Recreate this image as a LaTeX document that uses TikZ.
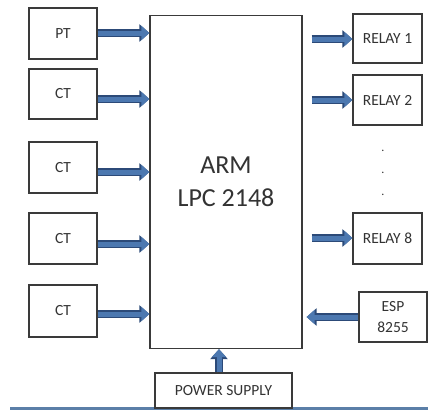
\documentclass[tikz,border=0pt]{standalone}
\usepackage{fontspec}
\setmainfont{Carlito}
\usetikzlibrary{arrows.meta}
\definecolor{boxline}{HTML}{3A3A3A}
\definecolor{txt}{HTML}{333333}
\definecolor{arrowfill}{HTML}{4C78B0}
\definecolor{arrowedge}{HTML}{2C4A78}
\definecolor{stripblue}{HTML}{5B7FA8}
\tikzset{
  blk/.style={draw=boxline, line width=1.3pt, fill=white, text=txt, inner sep=0pt, font=\fontsize{15.5}{17}\selectfont},
  fat/.style={line width=5pt, draw=arrowfill, -{Triangle[length=8pt,width=14pt,fill=arrowfill]},
    preaction={draw=arrowedge, line width=7.5pt, -{Triangle[length=10pt,width=17pt,fill=arrowedge]}}},
  dotn/.style={inner sep=0pt, font=\fontsize{12}{12}\selectfont, text=txt}
}
\begin{document}
\begin{tikzpicture}[x=1pt,y=-1pt]
\useasboundingbox (0,0) rectangle (428,410);
\fill[white] (0,0) rectangle (428,410);
\fill[stripblue] (10,406.5) rectangle (428,410);
% main block
\node[blk, minimum width=152pt, minimum height=333pt, align=center, font=\fontsize{26}{33}\selectfont] (arm) at (226,182) {ARM\\LPC 2148};
% left inputs
\node[blk, minimum width=68pt, minimum height=51pt] (pt) at (63,33.5) {PT};
\node[blk, minimum width=68pt, minimum height=50pt] (ct1) at (63,94) {CT};
\node[blk, minimum width=68pt, minimum height=51pt] (ct2) at (63,167.5) {CT};
\node[blk, minimum width=68pt, minimum height=51pt] (ct3) at (63,238.5) {CT};
\node[blk, minimum width=68pt, minimum height=52pt] (ct4) at (63,311) {CT};
% right outputs
\node[blk, minimum width=69pt, minimum height=49pt] (r1) at (387.5,38.5) {RELAY 1};
\node[blk, minimum width=69pt, minimum height=50pt] (r2) at (387.5,100) {RELAY 2};
\node[blk, minimum width=69pt, minimum height=51pt] (r8) at (387.5,238.5) {RELAY 8};
\node[blk, minimum width=68pt, minimum height=50pt, align=center, font=\fontsize{15.5}{21}\selectfont] (esp) at (393,317) {ESP\\8255};
\node[dotn] (d1) at (383,151) {.};
\node[dotn] (d2) at (383,173) {.};
\node[dotn] (d3) at (383,195) {.};
% power
\node[blk, minimum width=137pt, minimum height=35pt] (pwr) at (223.5,390.5) {POWER SUPPLY};
% arrows
\draw[fat] (pt.east |- 0,33) -- (arm.west |- 0,33);
\draw[fat] (ct1.east |- 0,99) -- (arm.west |- 0,99);
\draw[fat] (ct2.east |- 0,172) -- (arm.west |- 0,172);
\draw[fat] (ct3.east |- 0,244) -- (arm.west |- 0,244);
\draw[fat] (ct4.east |- 0,314) -- (arm.west |- 0,314);
\coordinate (o1) at ([xshift=9pt]arm.east |- 0,39);
\coordinate (o2) at ([xshift=9pt]arm.east |- 0,100);
\coordinate (o8) at ([xshift=9pt]arm.east |- 0,238);
\coordinate (ie) at ([xshift=4pt]arm.east |- 0,317);
\draw[fat] (o1) -- (r1.west |- 0,39);
\draw[fat] (o2) -- (r2.west |- 0,100);
\draw[fat] (o8) -- (r8.west |- 0,238);
\draw[fat] (esp.west |- 0,317) -- (ie);
\draw[fat] (pwr.north -| 219,0) -- (arm.south -| 219,0);
\end{tikzpicture}
\end{document}
